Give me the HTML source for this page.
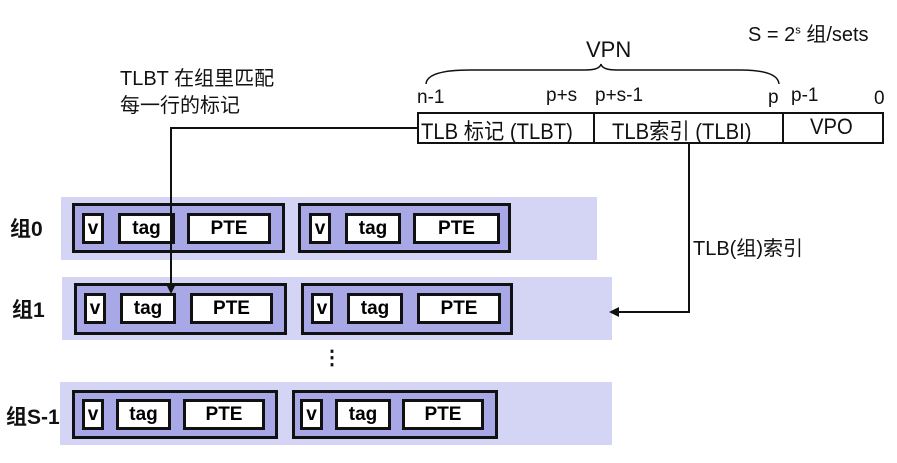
<!DOCTYPE html>
<html><head><meta charset="utf-8"><style>
body{margin:0;width:897px;height:463px;background:#fff;position:relative;overflow:hidden;font-family:"Liberation Sans","Noto Sans CJK SC",sans-serif;}
.a{position:absolute;box-sizing:border-box}
.band{background:#d4d4f4}
.box{background:#a8a8e6;border:3px solid #111}
.c{background:#fff;border:3px solid #111;font-weight:bold;font-size:19px;display:flex;align-items:center;justify-content:center;line-height:1}
.t{position:absolute;white-space:nowrap;color:#111}
.lbl{font-weight:bold;font-size:21px}
.sq{transform-origin:0 0;transform:scaleX(0.92)}
</style></head><body>

<div class="t" style="left:748px;top:18px;font-size:20px">S = 2<sup style="font-size:11px">s</sup> 组/sets</div>
<div class="t" style="left:586px;top:37px;font-size:22px">VPN</div>
<div class="t" style="left:120px;top:66px;font-size:20px;line-height:27px">TLBT 在组里匹配<br>每一行的标记</div>
<div class="t" style="left:417px;top:87px;font-size:19px">n-1</div>
<div class="t" style="left:546px;top:85px;font-size:19px">p+s</div>
<div class="t" style="left:595px;top:85px;font-size:19px">p+s-1</div>
<div class="t" style="left:768px;top:87px;font-size:19px">p</div>
<div class="t" style="left:791px;top:85px;font-size:19px">p-1</div>
<div class="t" style="left:874px;top:88px;font-size:19px">0</div>

<div class="a" style="left:417px;top:112px;width:467px;height:32px;border:2px solid #111"></div>
<div class="a" style="left:593px;top:112px;width:2px;height:32px;background:#111"></div>
<div class="a" style="left:782px;top:112px;width:2px;height:32px;background:#111"></div>
<div class="t sq" style="left:421px;top:114px;font-size:22px">TLB 标记 (TLBT)</div>
<div class="t sq" style="left:612px;top:114px;font-size:22px">TLB索引 (TLBI)</div>
<div class="t sq" style="left:810px;top:114px;font-size:22px">VPO</div>
<div class="t" style="left:693px;top:232px;font-size:20px">TLB(组)索引</div>

<!-- row 0 -->
<div class="a band" style="left:61px;top:197px;width:536px;height:63px"></div>
<div class="a box" style="left:72px;top:203px;width:213px;height:50px"></div>
<div class="a c" style="left:82px;top:213px;width:22px;height:31px">v</div>
<div class="a c" style="left:118px;top:213px;width:57px;height:31px">tag</div>
<div class="a c" style="left:187px;top:213px;width:84px;height:31px">PTE</div>
<div class="a box" style="left:298px;top:203px;width:213px;height:50px"></div>
<div class="a c" style="left:309px;top:213px;width:22px;height:31px">v</div>
<div class="a c" style="left:345px;top:213px;width:56px;height:31px">tag</div>
<div class="a c" style="left:413px;top:213px;width:87px;height:31px">PTE</div>
<div class="t lbl" style="left:10px;top:213px">组0</div>

<!-- row 1 -->
<div class="a band" style="left:62px;top:277px;width:550px;height:63px"></div>
<div class="a box" style="left:74px;top:283px;width:213px;height:52px"></div>
<div class="a c" style="left:84px;top:293px;width:22px;height:31px">v</div>
<div class="a c" style="left:120px;top:293px;width:56px;height:31px">tag</div>
<div class="a c" style="left:190px;top:293px;width:83px;height:31px">PTE</div>
<div class="a box" style="left:301px;top:283px;width:212px;height:52px"></div>
<div class="a c" style="left:311px;top:293px;width:22px;height:31px">v</div>
<div class="a c" style="left:347px;top:293px;width:56px;height:31px">tag</div>
<div class="a c" style="left:417px;top:293px;width:84px;height:31px">PTE</div>
<div class="t lbl" style="left:12px;top:294px">组1</div>

<div class="t" style="left:322px;top:345px;font-size:20px;font-weight:bold">⋮</div>

<!-- row S-1 -->
<div class="a band" style="left:60px;top:382px;width:552px;height:63px"></div>
<div class="a box" style="left:72px;top:390px;width:206px;height:49px"></div>
<div class="a c" style="left:82px;top:399px;width:22px;height:31px">v</div>
<div class="a c" style="left:116px;top:399px;width:55px;height:31px">tag</div>
<div class="a c" style="left:183px;top:399px;width:82px;height:31px">PTE</div>
<div class="a box" style="left:292px;top:390px;width:206px;height:49px"></div>
<div class="a c" style="left:300px;top:399px;width:23px;height:31px">v</div>
<div class="a c" style="left:335px;top:399px;width:56px;height:31px">tag</div>
<div class="a c" style="left:402px;top:399px;width:82px;height:31px">PTE</div>
<div class="t lbl" style="left:6px;top:401px">组S-1</div>

<svg class="a" style="left:0;top:0" width="897" height="463">
<path d="M426 84 Q427 70 470 70 L585 70 Q600 70 601 64 Q602 70 617 70 L740 70 Q778 70 779 84" fill="none" stroke="#111" stroke-width="1.5"/>
<polyline points="417,128 171,128 171,286" fill="none" stroke="#111" stroke-width="2"/>
<polygon points="166,284 176,284 171,294" fill="#111"/>
<polyline points="689,144 689,312 612,312" fill="none" stroke="#111" stroke-width="2"/>
<polygon points="609,312 619,307 619,317" fill="#111"/>
</svg>
</body></html>
